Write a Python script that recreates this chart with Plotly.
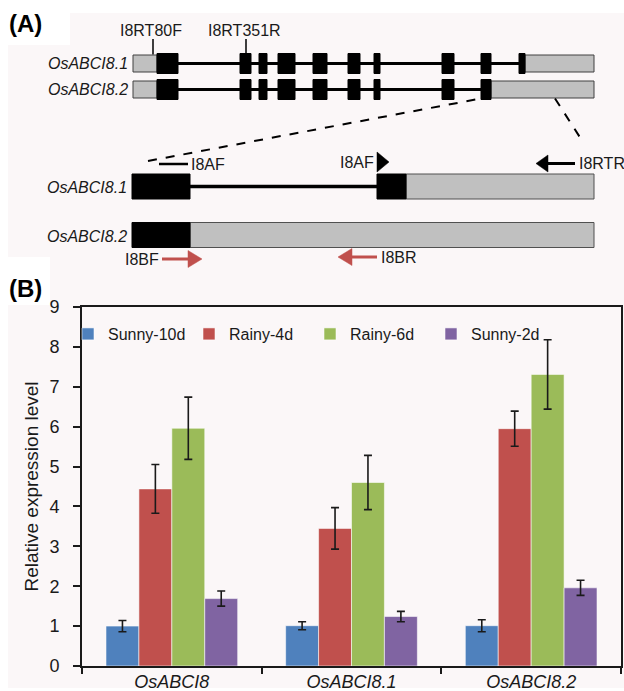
import plotly.graph_objects as go

W, H = 624, 691
FONT = "Liberation Sans, Arial, sans-serif"
INK = "#1a1a1a"
RED = "#c0504d"
PINK = "#fbf7f8"

# ---------------- Panel B data ----------------
categories = ["OsABCI8", "OsABCI8.1", "OsABCI8.2"]
series_names = ["Sunny-10d", "Rainy-4d", "Rainy-6d", "Sunny-2d"]
sunny10_vals = [1.00, 1.01, 1.01]
sunny10_err = [0.14, 0.10, 0.15]
rainy4_vals = [4.44, 3.45, 5.95]
rainy4_err = [0.61, 0.52, 0.44]
rainy6_vals = [5.96, 4.60, 7.31]
rainy6_err = [0.78, 0.68, 0.87]
sunny2_vals = [1.69, 1.24, 1.96]
sunny2_err = [0.19, 0.13, 0.19]
series_colors = ["#4f81bd", "#c0504d", "#9bbb59", "#8064a2"]
y_ticks = [0, 1, 2, 3, 4, 5, 6, 7, 8, 9]

# ---------------- Panel A data (scheme units) ----------------
tx_names = ["OsABCI8.1", "OsABCI8.2"]
full_row_y = [63.5, 89.5]
full_utr5 = [(133, 157), (133, 157)]
full_exons = [
    [(157, 178), (240, 251), (259, 267), (278, 295), (313, 327), (348, 360),
     (374, 380), (442, 454), (481, 491), (519, 525)],
    [(157, 178), (240, 251), (259, 267), (278, 295), (313, 327), (348, 360),
     (374, 380), (442, 454), (481, 491)],
]
full_utr3 = [(525, 594), (491, 594)]
full_primer_names = ["I8RT80F", "I8RT351R"]
full_primer_pos = [153, 246]

zoom_row_y = [186.5, 235]
zoom_cds = [[(132, 190), (377, 406)], [(132, 190)]]
zoom_utr = [[(406, 594)], [(190, 594)]]
zoom_introns = [[(190, 377)], []]

# arrow primers: name, tail x, head x, y, colour
arrow_primers = [
    ("I8RTR", 575, 536, 163.5, "black"),
    ("I8BF", 162, 202, 259, "red"),
    ("I8BR", 377, 338, 257, "red"),
]

fig = go.Figure()

# bars
vals = [sunny10_vals, rainy4_vals, rainy6_vals, sunny2_vals]
errs = [sunny10_err, rainy4_err, rainy6_err, sunny2_err]
for name, v, e, c in zip(series_names, vals, errs, series_colors):
    fig.add_trace(go.Bar(
        x=categories, y=v, name=name,
        marker=dict(color=c, line=dict(color="rgba(255,255,255,0.55)", width=1)),
        error_y=dict(type="data", array=e, visible=True, color=INK, thickness=1.6, width=4),
        xaxis="x", yaxis="y",
    ))

# invisible trace to anchor scheme axes
fig.add_trace(go.Scatter(x=[0, W], y=[0, H], mode="markers", marker=dict(opacity=0),
                         xaxis="x2", yaxis="y2", showlegend=False, hoverinfo="skip"))

shapes = []
annos = []

def px_x(v):
    return v / W

def px_y(v):
    return 1 - v / H

# backgrounds
shapes.append(dict(type="rect", xref="paper", yref="paper", x0=px_x(8), x1=1,
                   y0=px_y(688), y1=px_y(13), fillcolor=PINK, line_width=0, layer="below"))
shapes.append(dict(type="rect", xref="paper", yref="paper", x0=0, x1=px_x(70),
                   y0=px_y(45), y1=1, fillcolor="white", line_width=0, layer="below"))
shapes.append(dict(type="rect", xref="paper", yref="paper", x0=0, x1=px_x(50),
                   y0=px_y(305), y1=px_y(257), fillcolor="white", line_width=0, layer="below"))

def rect(x0, x1, yc, half, fill, border=None):
    shapes.append(dict(type="rect", xref="x2", yref="y2", x0=x0, x1=x1,
                       y0=yc - half, y1=yc + half, fillcolor=fill,
                       line=dict(color=border if border else fill, width=1)))

def seg(x0, y0, x1, y1, color="black", width=3, dash=None):
    ln = dict(color=color, width=width)
    if dash:
        ln["dash"] = dash
    shapes.append(dict(type="line", xref="x2", yref="y2", x0=x0, y0=y0, x1=x1, y1=y1, line=ln))

def tri(base_x, tip_x, yc, half, color):
    shapes.append(dict(type="path", xref="x2", yref="y2",
                       path=f"M{base_x},{yc-half} L{tip_x},{yc} L{base_x},{yc+half} Z",
                       fillcolor=color, line=dict(color=color, width=0.5)))

def text(x, y, s, anchor="left", size=16, italic=False, bold=False, color=INK):
    annos.append(dict(xref="x2", yref="y2", x=x, y=y, text=s, showarrow=False,
                      xanchor=anchor, yanchor="middle",
                      font=dict(family=FONT, size=size, color=color,
                                style="italic" if italic else "normal",
                                weight="bold" if bold else "normal")))

# full gene models
for i, yc in enumerate(full_row_y):
    u5 = full_utr5[i]
    u3 = full_utr3[i]
    seg(u5[1], yc, u3[0], yc, width=3)
    rect(u5[0], u5[1], yc, 8.5, "#c0c0c0", "#404040")
    rect(u3[0], u3[1], yc, 8.5, "#c0c0c0", "#404040")
    for a, b in full_exons[i]:
        rect(a, b, yc, 10, "black")
    text(130, yc, tx_names[i], anchor="right", italic=True)

for name, xp in zip(full_primer_names, full_primer_pos):
    seg(xp, 39, xp, full_row_y[0] - 9, width=1.5)
    text(xp - 2, 30, name, anchor="center")

# dashed zoom guides
seg(148, 161, full_exons[1][-1][0], full_row_y[1] + 9, width=2, dash="dash")
seg(full_utr3[1][1] - 39, full_row_y[1] + 9, 583, 142, width=2, dash="dash")

# zoomed models
for i, yc in enumerate(zoom_row_y):
    for a, b in zoom_introns[i]:
        seg(a, yc, b, yc, width=3.5)
    for a, b in zoom_utr[i]:
        rect(a, b, yc, 12.5, "#c0c0c0", "#505050")
    for a, b in zoom_cds[i]:
        rect(a, b, yc, 12.5, "black")
    text(129, yc + 1, tx_names[i], anchor="right", italic=True)

# primers on zoomed models
seg(159, 164, 188, 164, width=2.5)
text(189, 164, "I8AF")
tri(377, 389, 162, 10, "black")
text(376, 162, "I8AF", anchor="right")

for name, tail, head, yc, col in arrow_primers:
    color = RED if col == "red" else "black"
    direction = 1 if head > tail else -1
    base = head - direction * (14 if col == "red" else 12)
    seg(tail, yc, base, yc, color=color, width=3)
    tri(base, head, yc, 8.5, color)
    if direction > 0:
        text(tail - 1, yc, name, anchor="right", color=INK)
    else:
        text(tail + 2, yc, name, anchor="left", color=INK)

# panel labels
annos.append(dict(xref="paper", yref="paper", x=px_x(7), y=px_y(24), text="(A)", showarrow=False,
                  xanchor="left", yanchor="middle",
                  font=dict(family=FONT, size=24, color="black", weight="bold")))
annos.append(dict(xref="paper", yref="paper", x=px_x(7), y=px_y(289), text="(B)", showarrow=False,
                  xanchor="left", yanchor="middle",
                  font=dict(family=FONT, size=24, color="black", weight="bold")))

fig.update_layout(
    template="none",
    width=W, height=H, autosize=False,
    margin=dict(l=0, r=0, t=0, b=0, pad=0, autoexpand=False),
    paper_bgcolor="white", plot_bgcolor="rgba(0,0,0,0)",
    barmode="group", bargap=0.267, bargroupgap=0,
    showlegend=True,
    legend=dict(orientation="h", x=px_x(68), xanchor="left", y=px_y(334), yanchor="middle",
                bgcolor="rgba(0,0,0,0)", font=dict(family=FONT, size=16, color=INK),
                entrywidth=76, entrywidthmode="pixels", traceorder="normal"),
    xaxis=dict(domain=[px_x(82), px_x(621)], anchor="y", range=[-0.5, 2.5], automargin=False,
               showline=True, linecolor=INK, linewidth=1.8, mirror=True,
               ticks="outside", ticklen=6, tickwidth=1.8, tickcolor=INK, tickson="boundaries",
               ticklabelstandoff=-2,
               tickfont=dict(family=FONT, size=18, color=INK, style="italic"),
               showgrid=False, zeroline=False, fixedrange=True),
    yaxis=dict(domain=[px_y(666), px_y(307)], anchor="x", range=[0, 9], automargin=False,
               tickvals=y_ticks, showline=True, linecolor=INK, linewidth=1.8, mirror=True,
               ticks="outside", ticklen=7, tickwidth=1.8, tickcolor=INK,
               ticklabelstandoff=10,
               tickfont=dict(family=FONT, size=18, color=INK),
               title=dict(text="Relative expression level", standoff=6,
                          font=dict(family=FONT, size=19, color=INK)),
               showgrid=False, zeroline=False, fixedrange=True),
    xaxis2=dict(domain=[0, 1], anchor="y2", range=[0, W], visible=False, fixedrange=True,
                automargin=False),
    yaxis2=dict(domain=[0, 1], anchor="x2", range=[H, 0], visible=False, fixedrange=True,
                automargin=False),
    shapes=shapes, annotations=annos,
)

fig.write_html(
    "out.html",
    config={"displayModeBar": False},
    post_script="document.documentElement.style.margin='0';document.documentElement.style.padding='0';"
                "document.body.style.margin='0';document.body.style.padding='0';"
                "document.body.style.overflow='hidden';",
)
